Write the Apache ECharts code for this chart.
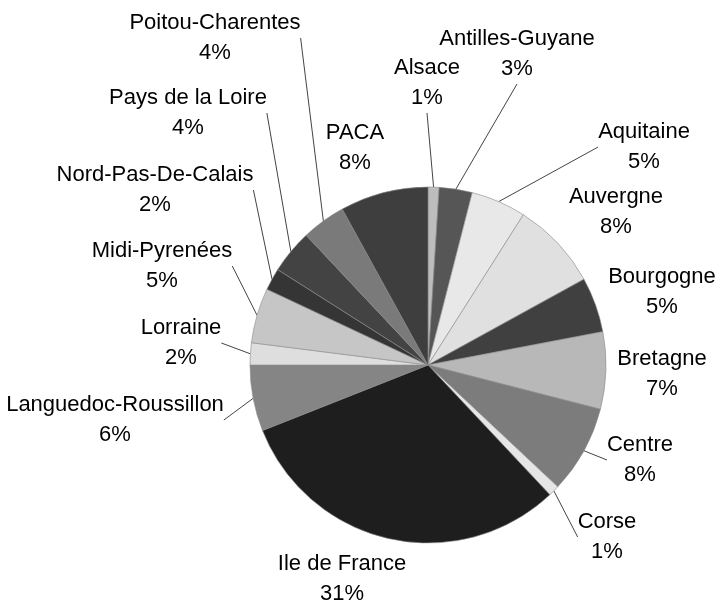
<!DOCTYPE html>
<html>
<head>
<meta charset="utf-8">
<script src="https://cdn.jsdelivr.net/npm/echarts@6/dist/echarts.min.js"></script>
<style>
  html, body { margin: 0; padding: 0; background: #fff; }
  #chart { width: 716px; height: 601px; }
</style>
</head>
<body>
<div id="chart"></div>
<script>
// regions, clockwise from 12 o'clock
const regions = [
  "Alsace", "Antilles-Guyane", "Aquitaine", "Auvergne", "Bourgogne",
  "Bretagne", "Centre", "Corse", "Ile de France", "Languedoc-Roussillon",
  "Lorraine", "Midi-Pyrenées", "Nord-Pas-De-Calais", "Pays de la Loire",
  "Poitou-Charentes", "PACA"
];
const shares = [1, 3, 5, 8, 5, 7, 8, 1, 31, 6, 2, 5, 2, 4, 4, 8];

// grey fills like the printed chart
const fills = [
  "#bdbdbd", "#565656", "#e8e8e8", "#e0e0e0", "#404040",
  "#b8b8b8", "#7c7c7c", "#e6e6e6", "#1e1e1e", "#858585",
  "#dedede", "#c6c6c6", "#353535", "#434343", "#7a7a7a", "#3e3e3e"
];

// where each label block sits (center), and which ones have a leader line
const labelPos = [
  [427, 83], [517, 54], [644, 147], [616, 212], [662, 292],
  [662, 374], [640, 460], [607, 537], [342, 579], [115, 420],
  [181, 343], [162, 266], [155, 190], [188, 113], [215, 38], [355, 148]
];
const noLine = ["Auvergne", "Bourgogne", "Bretagne", "Ile de France", "PACA"];

const myChart = echarts.init(document.getElementById("chart"));

const option = {
  backgroundColor: "#fff",
  animation: false,
  series: [
    {
      type: "pie",
      center: [428, 365],
      radius: 178,
      startAngle: 90,
      clockwise: true,
      avoidLabelOverlap: false,
      itemStyle: {
        borderColor: "#8a8a8a",
        borderWidth: 0.6,
      },
      label: {
        show: true,
        formatter: (p) => p.name + "\n" + p.value + "%",
        fontFamily: "Liberation Sans, Arial, sans-serif",
        fontSize: 22,
        lineHeight: 30,
        color: "#000",
        align: "center",
      },
      labelLine: {
        show: true,
        length: 10,
        length2: 0,
        lineStyle: { color: "#444", width: 1 },
      },
      labelLayout: (params) => {
        const pos = labelPos[params.dataIndex];
        return {
          x: pos[0],
          y: pos[1],
          align: "center",
          verticalAlign: "middle",
        };
      },
      data: regions.map((name, i) => ({
        name: name,
        value: shares[i],
        itemStyle: { color: fills[i] },
        labelLine: { show: noLine.indexOf(name) < 0 },
      })),
    },
  ],
};

myChart.setOption(option);
</script>
</body>
</html>
